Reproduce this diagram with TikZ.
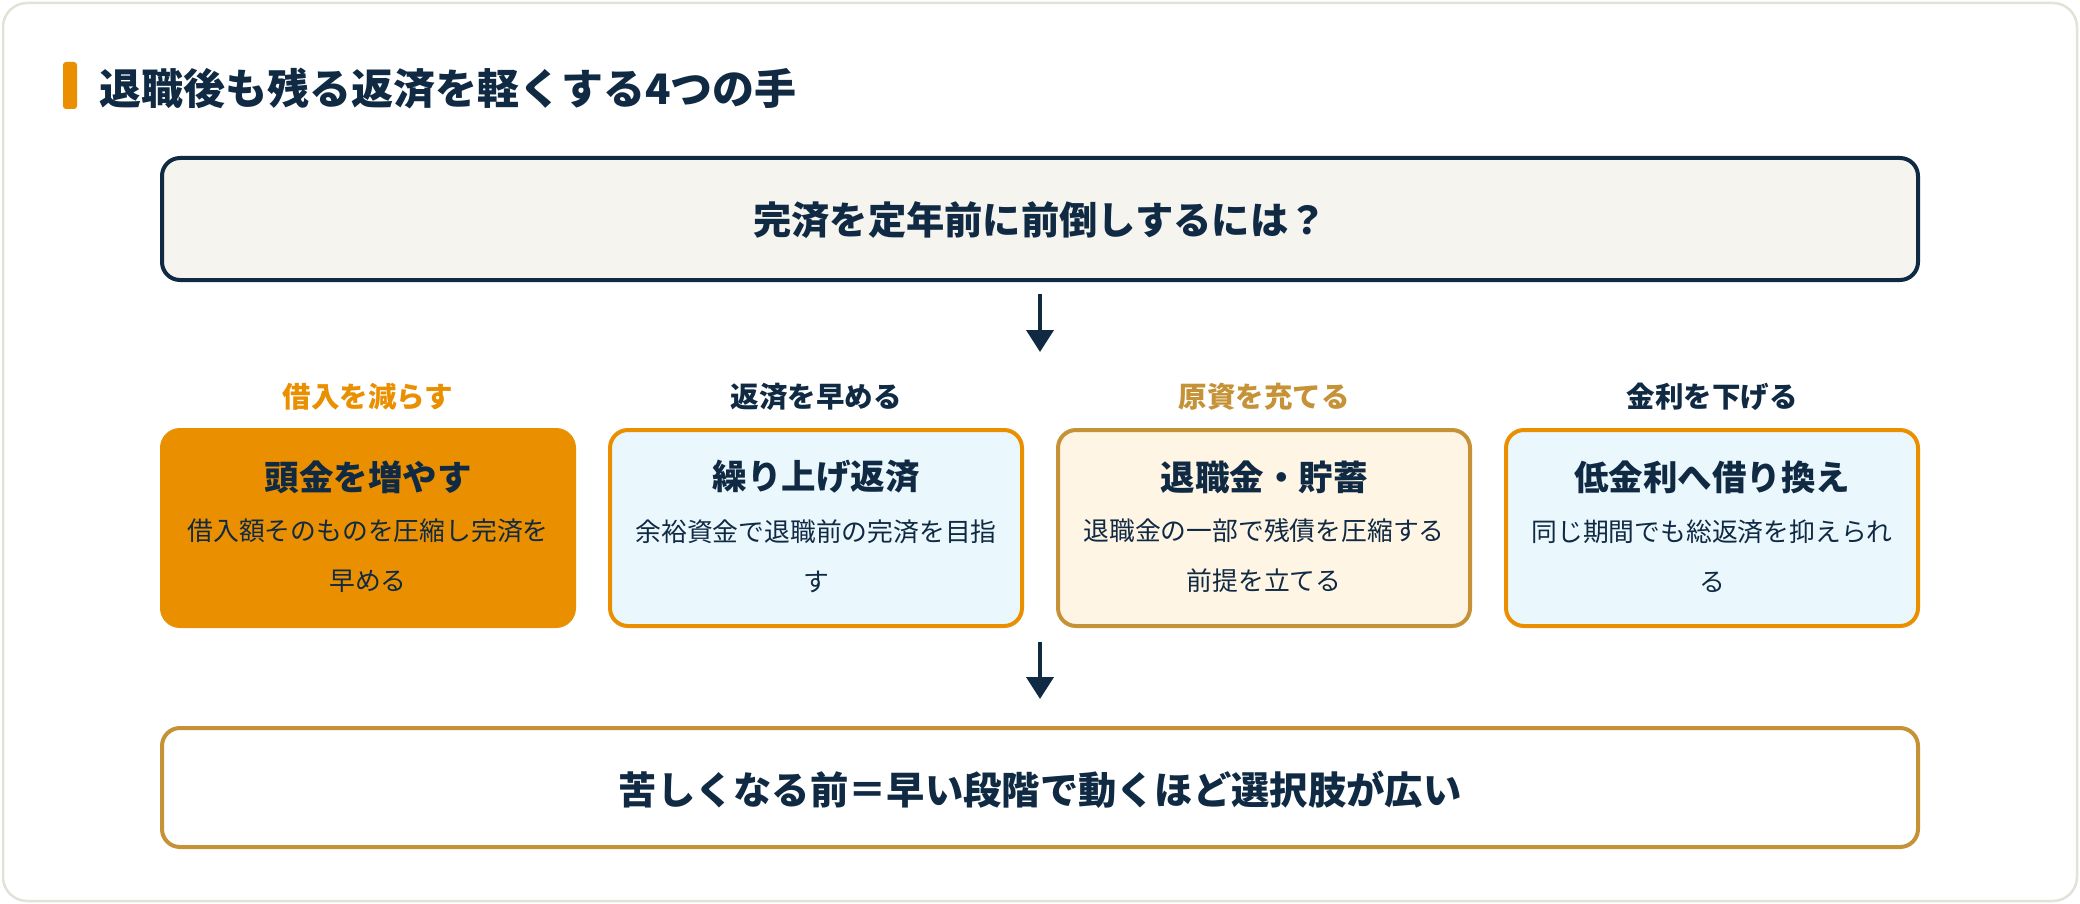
\documentclass[tikz,border=0pt]{standalone}
\usepackage{fontspec}
\newfontfamily\jp{Noto Sans CJK JP}
\usetikzlibrary{arrows.meta}
\definecolor{navy}{HTML}{102A43}
\definecolor{orng}{HTML}{E98F00}
\definecolor{gold}{HTML}{C59237}
\definecolor{cardline}{HTML}{E4E2D8}
\definecolor{topfill}{HTML}{F5F4EF}
\definecolor{bluefill}{HTML}{EAF8FE}
\definecolor{creamfill}{HTML}{FFF5E5}
\tikzset{
  card/.style={draw=cardline, line width=2.5pt, fill=white, rounded corners=24pt},
  bigbox/.style={rectangle, rounded corners=18pt, line width=4pt, minimum width=1756pt, inner sep=0pt},
  box/.style={rectangle, rounded corners=18pt, line width=4pt, minimum width=412pt, minimum height=196pt, inner sep=0pt},
  arr/.style={draw=navy, line width=4pt, -{Triangle[length=22pt,width=27pt]}},
  headtxt/.style={text=navy, inner sep=0pt, font=\jp\bfseries\fontsize{38.3}{46}\selectfont},
  lbltxt/.style={inner sep=0pt, font=\jp\bfseries\fontsize{28.5}{34}\selectfont},
  boxtitle/.style={text=navy, inner sep=0pt, font=\jp\bfseries\fontsize{34.5}{42}\selectfont},
  desctxt/.style={text=navy, inner sep=0pt, align=center, font=\jp\fontsize{25.8}{50}\selectfont},
}
\begin{document}
\begin{tikzpicture}[x=1pt,y=-1pt]
\useasboundingbox (0,0) rectangle (2080,904);
\path[card] (3,3) rectangle (2077,901);
% title
\path[fill=orng, rounded corners=3pt] (63,62) rectangle (77,109);
\node[text=navy, inner sep=0pt, anchor=west, font=\jp\bfseries\fontsize{42}{50}\selectfont] (title) at (99,88) {退職後も残る返済を軽くする4つの手};
% top box
\node[bigbox, draw=navy, fill=topfill, minimum height=122pt] (top) at (1040,219) {};
\node[headtxt] (toptxt) at (1040,220) {完済を定年前に前倒しするには？};
% arrow 1
\coordinate (a1s) at (1040,294);
\coordinate (a1e) at (1040,352);
\draw[arr] (a1s) -- (a1e);
% labels
\node[lbltxt, text=orng] (l1) at (368,397) {借入を減らす};
\node[lbltxt, text=navy] (l2) at (816,397) {返済を早める};
\node[lbltxt, text=gold] (l3) at (1264,397) {原資を充てる};
\node[lbltxt, text=navy] (l4) at (1712,397) {金利を下げる};
% boxes
\node[box, draw=orng, fill=orng] (b1) at (368,528) {};
\node[box, draw=orng, fill=bluefill] (b2) at (816,528) {};
\node[box, draw=gold, fill=creamfill] (b3) at (1264,528) {};
\node[box, draw=orng, fill=bluefill] (b4) at (1712,528) {};
\node[boxtitle] (t1) at (368,477) {頭金を増やす};
\node[boxtitle] (t2) at (816,477) {繰り上げ返済};
\node[boxtitle] (t3) at (1264,477) {退職金・貯蓄};
\node[boxtitle] (t4) at (1712,477) {低金利へ借り換え};
\node[desctxt] (d1) at (368,556) {借入額そのものを圧縮し完済を\\早める};
\node[desctxt] (d2) at (816,556) {余裕資金で退職前の完済を目指\\す};
\node[desctxt] (d3) at (1264,556) {退職金の一部で残債を圧縮する\\前提を立てる};
\node[desctxt] (d4) at (1712,556) {同じ期間でも総返済を抑えられ\\る};
% arrow 2
\coordinate (a2s) at (1040,642);
\coordinate (a2e) at (1040,699);
\draw[arr] (a2s) -- (a2e);
% bottom box
\node[bigbox, draw=gold, fill=white, minimum height=119pt] (bot) at (1040,787.5) {};
\node[headtxt] (bottxt) at (1040,790) {苦しくなる前＝早い段階で動くほど選択肢が広い};
\end{tikzpicture}
\end{document}
